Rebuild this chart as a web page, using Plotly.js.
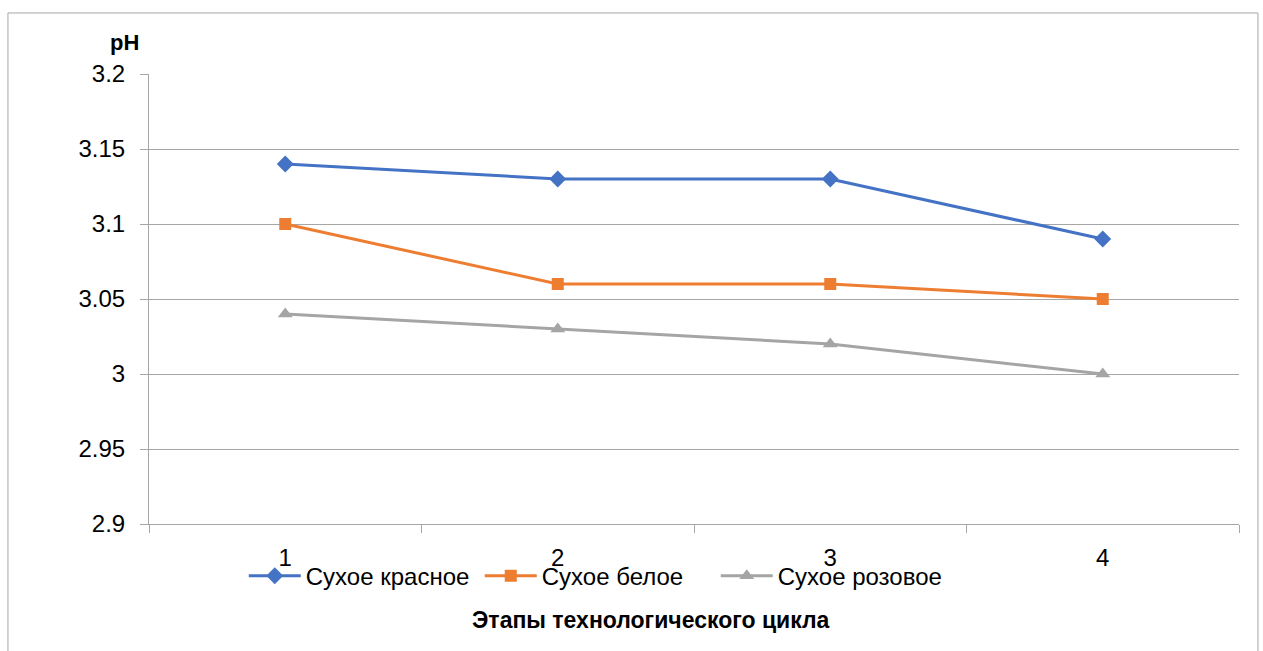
<!DOCTYPE html>
<html>
<head>
<meta charset="utf-8">
<script src="https://cdn.plot.ly/plotly-3.0.1.min.js"></script>
<style>html,body{margin:0;padding:0;background:#fff;}#chart{width:1263px;height:651px;}</style>
</head>
<body>
<div id="chart"></div>
<script>
var stages = ['1', '2', '3', '4'];
var seriesNames = ['Сухое красное', 'Сухое белое', 'Сухое розовое'];
var dryRed = [3.14, 3.13, 3.13, 3.09];
var dryWhite = [3.10, 3.06, 3.06, 3.05];
var dryRose = [3.04, 3.03, 3.02, 3.00];
var yTickVals = [2.9, 2.95, 3, 3.05, 3.1, 3.15, 3.2];
var yTickText = ['2.9', '2.95', '3', '3.05', '3.1', '3.15', '3.2'];
var yTitle = 'pH';
var xTitle = 'Этапы технологического цикла';

var FONT = 'Liberation Sans, Arial, sans-serif';
var colors = ['#4472C4', '#ED7D31', '#A5A5A5'];
var symbols = ['diamond', 'square', 'triangle-up'];
var values = [dryRed, dryWhite, dryRose];
var sizes = [13, 12, 13];

var traces = values.map(function (v, i) {
  return {
    x: stages, y: v, type: 'scatter', mode: 'lines+markers', name: seriesNames[i],
    line: {color: colors[i], width: 3},
    marker: {color: colors[i], symbol: symbols[i], size: sizes[i]}
  };
});

var layout = {
  width: 1263, height: 651,
  margin: {l: 149, r: 24, t: 74, b: 127},
  paper_bgcolor: '#fff', plot_bgcolor: '#fff',
  font: {family: FONT, size: 24, color: '#000'},
  showlegend: true,
  legend: {orientation: 'h', xref: 'container', yref: 'container', x: 0.193, y: 0.115,
           xanchor: 'left', yanchor: 'middle', font: {size: 24, family: FONT}, itemwidth: 52,
           entrywidth: 169, entrywidthmode: 'pixels',
           bgcolor: 'rgba(0,0,0,0)'},
  xaxis: {type: 'category', range: [-0.5, 3.5], tickson: 'boundaries', ticks: 'outside', ticklen: 8,
          tickcolor: '#a6a6a6', showline: true, linecolor: '#a6a6a6', linewidth: 1, showgrid: false,
          tickfont: {size: 24, family: FONT}, ticklabelstandoff: 12, fixedrange: true},
  yaxis: {range: [2.9, 3.2], tickvals: yTickVals, ticktext: yTickText, ticks: 'outside', ticklen: 8,
          tickcolor: '#a6a6a6', showline: true, linecolor: '#a6a6a6', showgrid: true, gridcolor: '#a6a6a6',
          gridwidth: 1, zeroline: false, tickfont: {size: 24, family: FONT}, ticklabelstandoff: 10},
  annotations: [
    {text: '<b>' + yTitle + '</b>', xref: 'paper', yref: 'paper', x: -0.0229, y: 1.071,
     xanchor: 'center', yanchor: 'middle', showarrow: false, font: {size: 22, family: FONT}},
    {text: '<b>' + xTitle + '</b>', xref: 'paper', yref: 'paper', x: 0.4606, y: -0.213,
     xanchor: 'center', yanchor: 'middle', showarrow: false, font: {size: 23, family: FONT}}
  ],
  shapes: [
    {type: 'rect', xref: 'paper', yref: 'paper', x0: -0.1294, x1: 1.0174, y0: -0.35, y1: 1.1356,
     line: {color: '#a6a6a6', width: 1}, fillcolor: 'rgba(0,0,0,0)', layer: 'below'}
  ]
};

Plotly.newPlot('chart', traces, layout, {displayModeBar: false, staticPlot: true});
</script>
</body>
</html>
